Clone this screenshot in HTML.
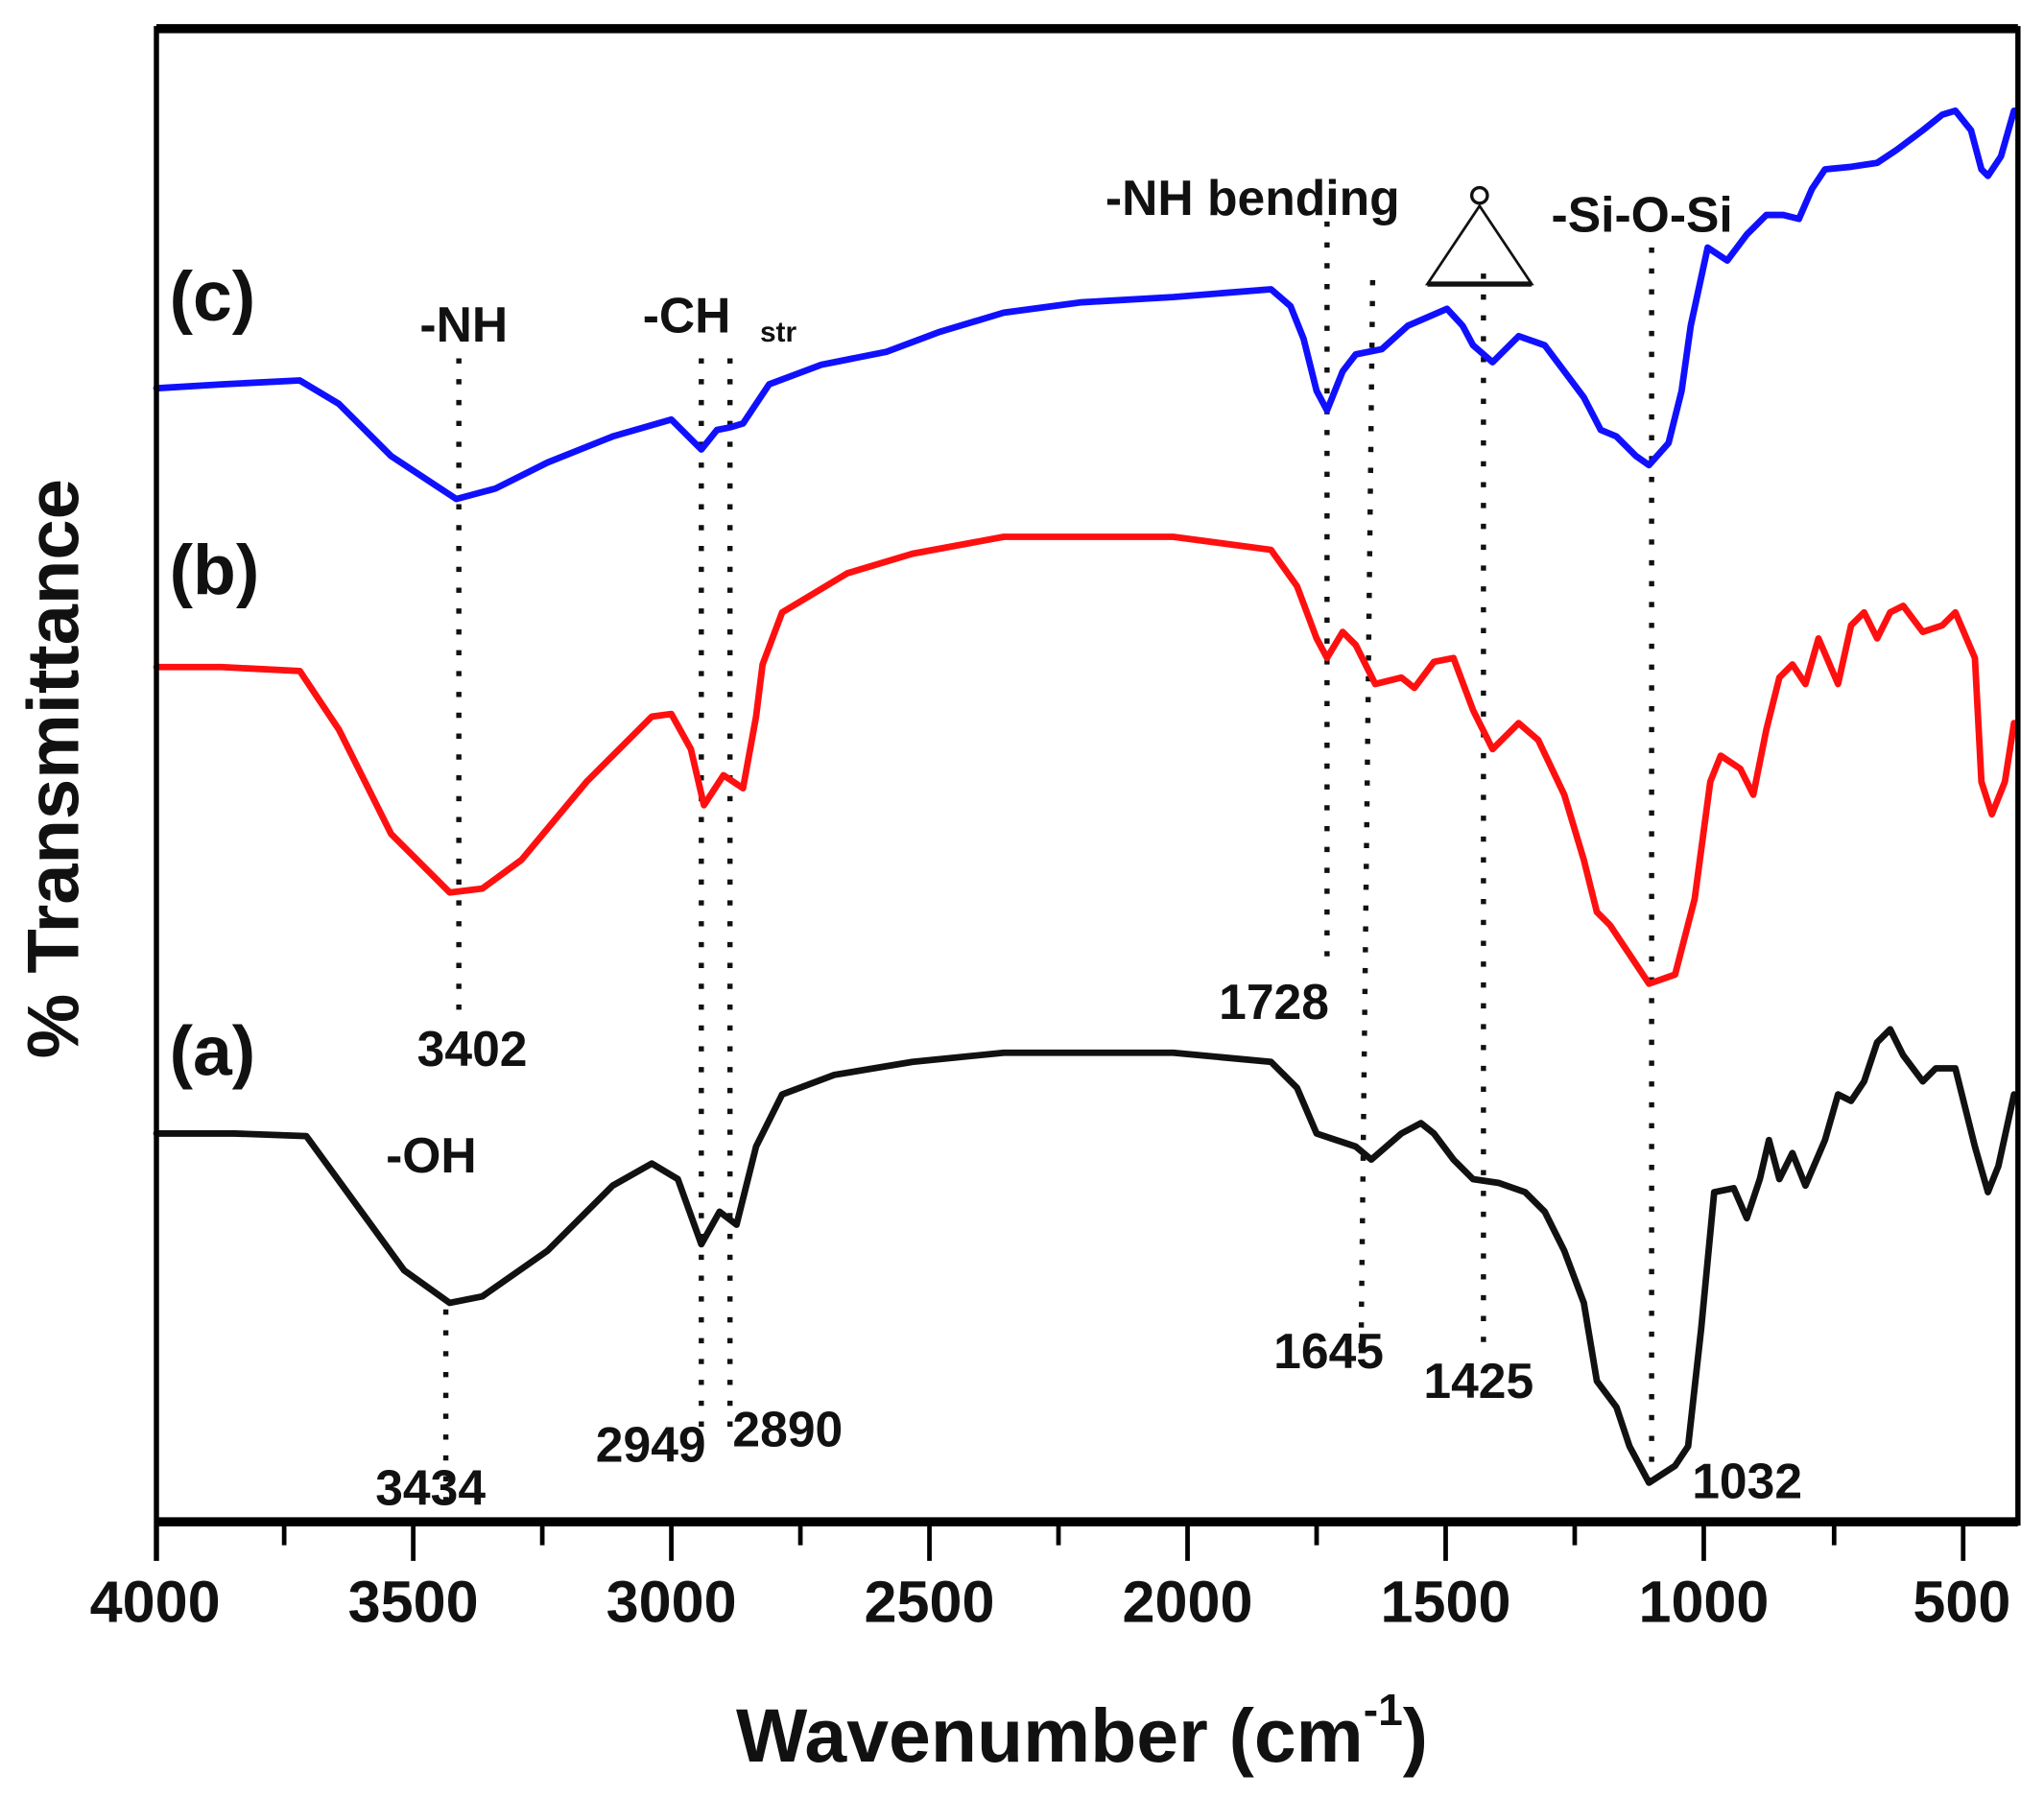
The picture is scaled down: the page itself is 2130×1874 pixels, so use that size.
<!DOCTYPE html>
<html><head><meta charset="utf-8"><style>
html,body{margin:0;padding:0;background:#fff}
svg{display:block}
text{font-family:"Liberation Sans",Arial,sans-serif;font-weight:bold;fill:#111}
</style></head><body>
<svg width="2130" height="1874" viewBox="0 0 1568 1380" preserveAspectRatio="none" xmlns="http://www.w3.org/2000/svg">
<rect width="1568" height="1380" fill="#fff"/>
<!-- dotted lines -->
<g stroke="#111" stroke-width="4" stroke-dasharray="4 12" fill="none">
<line x1="352" y1="275" x2="352" y2="780"/>
<line x1="342" y1="1005" x2="342" y2="1155"/>
<line x1="538" y1="275" x2="538" y2="1100"/>
<line x1="560" y1="275" x2="560" y2="1100"/>
<line x1="1018" y1="170" x2="1018" y2="740"/>
<line x1="1053" y1="215" x2="1044" y2="1045"/>
<line x1="1138" y1="210" x2="1138" y2="1030"/>
<line x1="1267" y1="190" x2="1267" y2="1150"/>
</g>
<!-- curves -->
<g fill="none" stroke-width="5" stroke-linejoin="round" stroke-linecap="round">
<polyline stroke="#1010ff" points="120,298 170,295 230,292 260,310 300,350 350,383 380,375 420,355 470,335 515,322 538,345 550,330 560,328 570,325 590,295 630,280 680,270 720,255 770,240 830,232 900,228 975,222 990,235 1000,260 1010,300 1018,315 1030,285 1040,272 1060,268 1080,250 1110,237 1122,250 1130,265 1145,278 1165,258 1185,265 1200,285 1215,305 1228,330 1240,335 1255,350 1265,357 1280,340 1290,300 1297,250 1310,190 1325,200 1340,180 1355,165 1368,165 1380,168 1390,145 1400,130 1420,128 1440,125 1455,115 1475,100 1490,88 1500,85 1512,100 1520,130 1525,135 1535,120 1545,85"/>
<polyline stroke="#ff1010" points="120,512 170,512 230,515 260,560 300,640 345,685 370,682 400,660 450,600 500,550 515,548 530,575 540,618 555,595 570,605 580,550 585,510 600,470 650,440 700,425 770,412 900,412 975,422 995,450 1010,490 1018,505 1030,485 1040,495 1055,525 1075,520 1085,528 1100,508 1115,505 1130,545 1145,575 1165,555 1180,568 1200,610 1215,660 1225,700 1235,710 1255,740 1265,755 1285,748 1300,690 1312,600 1320,580 1335,590 1345,610 1355,560 1365,520 1375,510 1385,525 1395,490 1410,525 1420,480 1430,470 1440,490 1450,470 1460,465 1475,485 1490,480 1500,470 1515,505 1520,600 1528,625 1538,600 1545,555"/>
<polyline stroke="#111" points="120,870 180,870 235,872 270,920 310,975 345,1000 370,995 420,960 470,910 500,893 520,905 538,955 552,930 565,940 580,880 600,840 640,825 700,815 770,808 900,808 975,815 995,835 1010,870 1025,875 1040,880 1052,890 1075,870 1090,862 1100,870 1115,890 1130,905 1150,908 1170,915 1185,930 1200,960 1215,1000 1225,1060 1240,1080 1250,1110 1265,1138 1285,1125 1295,1110 1305,1020 1315,915 1330,912 1340,935 1350,905 1357,875 1365,905 1375,885 1385,910 1400,875 1410,840 1420,845 1430,830 1440,800 1450,790 1460,810 1475,830 1485,820 1500,820 1515,880 1525,915 1533,895 1545,840"/>
</g>
<!-- frame -->
<g stroke="#000" fill="none">
<line x1="120" y1="22" x2="1548" y2="22" stroke-width="7"/>
<line x1="120" y1="1168" x2="1548" y2="1168" stroke-width="7"/>
<line x1="120" y1="20" x2="120" y2="1198" stroke-width="4"/>
<line x1="1548" y1="20" x2="1548" y2="1171" stroke-width="4"/>
<g stroke-width="3.5">
<line x1="317" y1="1168" x2="317" y2="1198"/><line x1="515" y1="1168" x2="515" y2="1198"/>
<line x1="713" y1="1168" x2="713" y2="1198"/><line x1="911" y1="1168" x2="911" y2="1198"/>
<line x1="1109" y1="1168" x2="1109" y2="1198"/><line x1="1307" y1="1168" x2="1307" y2="1198"/>
<line x1="1506" y1="1168" x2="1506" y2="1198"/>
<line x1="218" y1="1168" x2="218" y2="1186"/><line x1="416" y1="1168" x2="416" y2="1186"/>
<line x1="614" y1="1168" x2="614" y2="1186"/><line x1="812" y1="1168" x2="812" y2="1186"/>
<line x1="1010" y1="1168" x2="1010" y2="1186"/><line x1="1208" y1="1168" x2="1208" y2="1186"/>
<line x1="1407" y1="1168" x2="1407" y2="1186"/>
</g>
</g>
<!-- tick labels -->
<g font-size="45" text-anchor="middle">
<text x="119" y="1245">4000</text><text x="317" y="1245">3500</text><text x="515" y="1245">3000</text>
<text x="713" y="1245">2500</text><text x="911" y="1245">2000</text><text x="1109" y="1245">1500</text>
<text x="1307" y="1245">1000</text><text x="1505" y="1245">500</text>
</g>
<text x="830" y="1352" font-size="58" text-anchor="middle">Wavenumber (cm<tspan font-size="34" dy="-28">-1</tspan><tspan dy="28">)</tspan></text>
<text transform="translate(60,590) rotate(-90)" font-size="56" text-anchor="middle">% Transmittance</text>
<!-- annotations -->
<g font-size="54"><text x="130" y="246">(c)</text><text x="130" y="456">(b)</text><text x="130" y="825">(a)</text></g>
<g font-size="38">
<text x="322" y="262">-NH</text>
<text x="493" y="255">-CH</text><text x="583" y="262" font-size="22">str</text>
<text x="848" y="165">-NH bending</text>
<text x="1190" y="178">-Si-O-Si</text>
<text x="320" y="818">3402</text>
<text x="296" y="900">-OH</text>
<text x="935" y="782">1728</text>
<text x="288" y="1155">3434</text>
<text x="457" y="1122">2949</text>
<text x="562" y="1110">2890</text>
<text x="977" y="1050">1645</text>
<text x="1092" y="1073">1425</text>
<text x="1298" y="1150">1032</text>
</g>
<polygon points="1095,218 1175,218 1135,158" fill="none" stroke="#111" stroke-width="2"/>
<line x1="1095" y1="218" x2="1175" y2="218" stroke="#111" stroke-width="4"/>
<circle cx="1135" cy="150" r="6" fill="none" stroke="#111" stroke-width="2.5"/>
</svg>
</body></html>
